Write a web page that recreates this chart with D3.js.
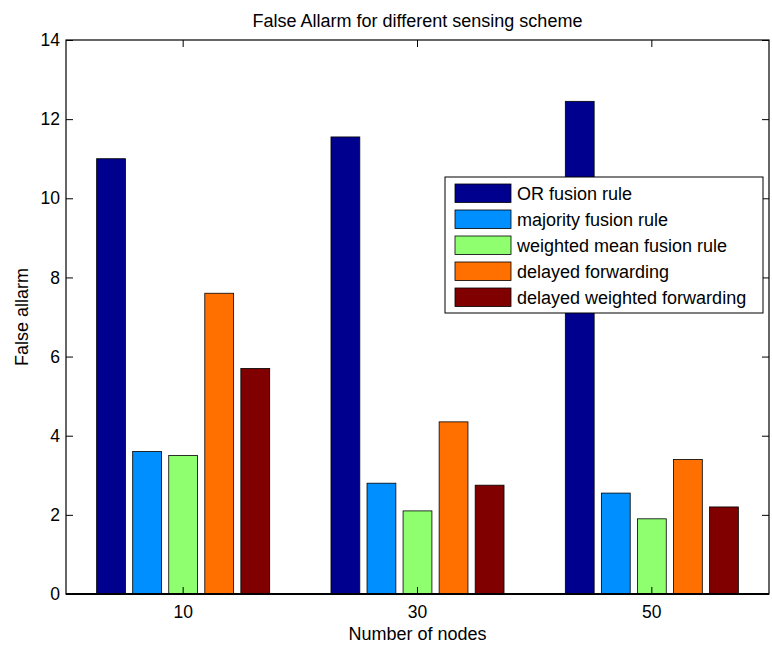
<!DOCTYPE html>
<html>
<head>
<meta charset="utf-8">
<script src="https://cdn.jsdelivr.net/npm/d3@7"></script>
<style>
  html, body { margin: 0; padding: 0; background: #fff; }
  text { font-family: "Liberation Sans", Arial, Helvetica, sans-serif; fill: #000; }
</style>
</head>
<body>
<svg id="chart" width="772" height="656"></svg>
<script>
const categories = ["10", "30", "50"];
const seriesNames = ["OR fusion rule", "majority fusion rule", "weighted mean fusion rule", "delayed forwarding", "delayed weighted forwarding"];
const orFusion = [11.0, 11.55, 12.45];
const majorityFusion = [3.6, 2.8, 2.55];
const weightedMeanFusion = [3.5, 2.1, 1.9];
const delayedForwarding = [7.6, 4.35, 3.4];
const delayedWeightedForwarding = [5.7, 2.75, 2.2];
const seriesValues = [orFusion, majorityFusion, weightedMeanFusion, delayedForwarding, delayedWeightedForwarding];
const seriesColors = ["#00008f", "#008fff", "#8fff70", "#ff7000", "#800000"];
const yTicks = [0, 2, 4, 6, 8, 10, 12, 14];
const title = "False Allarm for different sensing scheme";
const xLabel = "Number of nodes";
const yLabel = "False allarm";

const svg = d3.select("#chart");
const L = 66, R = 769, T = 40, B = 594;
const FS = 17.5;

const x = d3.scaleBand().domain(categories).range([L, R]).padding(0);
const groupW = x.bandwidth() * Math.min(0.8, 5 / (5 + 1.5));
const xs = d3.scaleBand().domain(d3.range(seriesNames.length))
  .range([-groupW / 2, groupW / 2]).paddingInner(0.2).paddingOuter(0.1);
const y = d3.scaleLinear().domain([0, 14]).range([B, T]);

// bars
seriesValues.forEach((vals, si) => {
  svg.append("g").selectAll("rect").data(vals).join("rect")
    .attr("x", (d, i) => x(categories[i]) + x.bandwidth() / 2 + xs(si))
    .attr("y", d => y(d))
    .attr("width", xs.bandwidth())
    .attr("height", d => y(0) - y(d))
    .attr("fill", seriesColors[si])
    .attr("stroke", "#000")
    .attr("stroke-width", 0.8);
});

// axes
const tickLen = 7;
const axL = d3.axisLeft(y).tickValues(yTicks).tickSize(-tickLen).tickPadding(6).tickFormat(d3.format("d"));
const axR = d3.axisRight(y).tickValues(yTicks).tickSize(-tickLen).tickFormat("");
const axB = d3.axisBottom(x).tickSize(-tickLen).tickPadding(12);
const axT = d3.axisTop(x).tickSize(-tickLen).tickFormat("");

function style(g) {
  g.selectAll("path.domain").attr("stroke", "#000").attr("stroke-width", 1.2);
  g.selectAll(".tick line").attr("stroke", "#000").attr("stroke-width", 1);
  g.selectAll(".tick text").attr("font-size", FS).attr("font-family", "Liberation Sans, Arial, sans-serif").attr("fill", "#000");
}
svg.append("g").attr("transform", `translate(${L},0)`).call(axL).call(style);
svg.append("g").attr("transform", `translate(${R},0)`).call(axR).call(style);
svg.append("g").attr("transform", `translate(0,${B})`).call(axB).call(style);
svg.append("g").attr("transform", `translate(0,${T})`).call(axT).call(style);
svg.selectAll("path.domain").each(function() {
  d3.select(this).attr("d", d3.select(this).attr("d").replace(/V-?\d+(\.\d+)?H/, m => m));
});
// ensure straight frame without outer ticks
svg.selectAll("path.domain").remove();
svg.append("rect").attr("x", L).attr("y", T).attr("width", R - L).attr("height", B - T)
  .attr("fill", "none").attr("stroke", "#000").attr("stroke-width", 1.2);
svg.append("line").attr("x1", L).attr("x2", R).attr("y1", B).attr("y2", B)
  .attr("stroke", "#000").attr("stroke-width", 2);

// titles
svg.append("text").attr("x", (L + R) / 2).attr("y", 27).attr("text-anchor", "middle")
  .attr("font-size", FS + 0.5).text(title);
svg.append("text").attr("x", (L + R) / 2).attr("y", 640).attr("text-anchor", "middle")
  .attr("font-size", FS + 0.5).text(xLabel);
svg.append("text").attr("transform", `translate(28,${(T + B) / 2}) rotate(-90)`)
  .attr("text-anchor", "middle").attr("font-size", FS + 0.5).text(yLabel);

// legend
const lg = svg.append("g");
lg.append("rect").attr("x", 445).attr("y", 177).attr("width", 318).attr("height", 136)
  .attr("fill", "#fff").attr("stroke", "#000").attr("stroke-width", 1);
seriesNames.forEach((name, i) => {
  const yy = 184 + i * 26;
  lg.append("rect").attr("x", 455).attr("y", yy).attr("width", 56).attr("height", 18.5)
    .attr("fill", seriesColors[i]).attr("stroke", "#000").attr("stroke-width", 0.8);
  lg.append("text").attr("x", 517).attr("y", yy + 15.5).attr("font-size", FS + 0.5).text(name);
});
</script>
</body>
</html>
